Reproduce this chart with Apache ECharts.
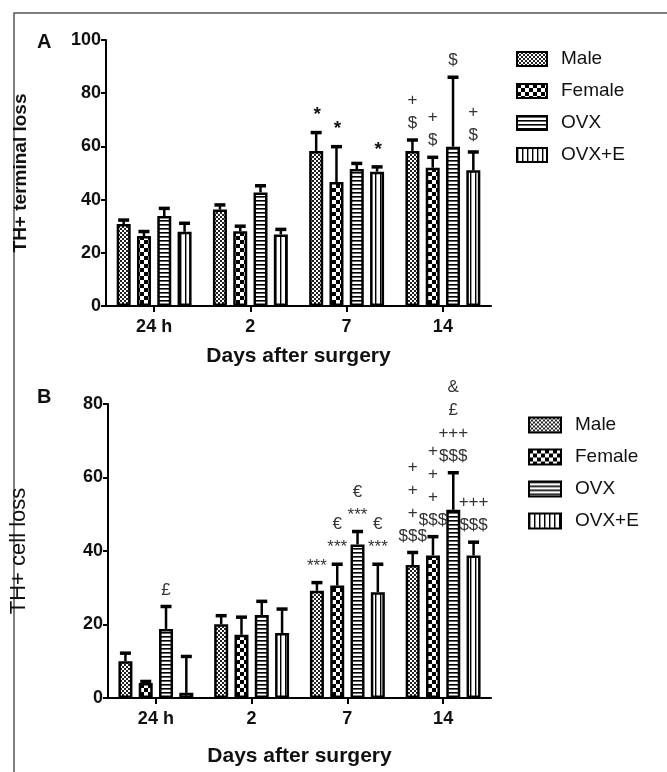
<!DOCTYPE html>
<html><head><meta charset="utf-8">
<script src="https://cdn.jsdelivr.net/npm/echarts@6/dist/echarts.min.js"></script>
<style>html,body{margin:0;padding:0;background:#fff}#c{width:667px;height:772px}</style>
</head><body><div id="c"></div>
<script>
// ---------- data ----------
const categories = ['24 h', '2', '7', '14'];
const seriesNames = ['Male', 'Female', 'OVX', 'OVX+E'];

// Panel A: TH+ terminal loss (mean, SEM)
const termMale      = [30.8, 36.3, 58.3, 58.3];
const termMaleErr   = [1.5, 1.7, 6.9, 4.1];
const termFemale    = [26.3, 28.1, 46.6, 52.0];
const termFemaleErr = [1.7, 1.9, 13.3, 3.9];
const termOVX       = [33.8, 42.7, 51.5, 59.9];
const termOVXErr    = [2.9, 2.5, 2.1, 26.1];
const termOVXE      = [27.9, 26.9, 50.5, 51.0];
const termOVXEErr   = [3.2, 1.9, 1.8, 6.9];

// Panel B: TH+ cell loss (mean, SEM)
const cellMale      = [10.0, 20.1, 29.2, 36.2];
const cellMaleErr   = [2.2, 2.3, 2.2, 3.4];
const cellFemale    = [4.1, 17.2, 30.6, 38.8];
const cellFemaleErr = [0.4, 4.8, 5.8, 5.1];
const cellOVX       = [18.8, 22.6, 41.8, 51.2];
const cellOVXErr    = [6.1, 3.7, 3.5, 10.1];
const cellOVXE      = [1.4, 17.7, 28.8, 38.8];
const cellOVXEErr   = [9.9, 6.5, 7.6, 3.6];

// significance marks
const termMarksMale   = ['', '', '*', '+\n$'];
const termMarksFemale = ['', '', '*', '+\n$'];
const termMarksOVX    = ['', '', '', '$'];
const termMarksOVXE   = ['', '', '*', '+\n$'];
const cellMarksMale   = ['', '', '***', '+\n+\n+\n$$$'];
const cellMarksFemale = ['', '', '€\n***', '+\n+\n+\n$$$'];
const cellMarksOVX    = ['£', '', '€\n***', '&\n£\n+++\n$$$'];
const cellMarksOVXE   = ['', '', '€\n***', '+++\n$$$'];

const yTicksA = {min: 0, max: 100, interval: 20};
const yTicksB = {min: 0, max: 80, interval: 20};

// ---------- styling helpers ----------
function pat(kind) {
  const c = document.createElement('canvas');
  const ctx = c.getContext('2d');
  if (kind === 0) { // fine dotted
    c.width = 4; c.height = 4;
    ctx.fillStyle = '#fff'; ctx.fillRect(0, 0, 4, 4);
    ctx.fillStyle = '#222'; ctx.fillRect(0, 0, 2, 2); ctx.fillRect(2, 2, 2, 2);
  } else if (kind === 1) { // checker
    c.width = 8; c.height = 8;
    ctx.fillStyle = '#fff'; ctx.fillRect(0, 0, 8, 8);
    ctx.fillStyle = '#000'; ctx.fillRect(0, 0, 4, 4); ctx.fillRect(4, 4, 4, 4);
  } else if (kind === 2) { // horizontal stripes
    c.width = 4; c.height = 4;
    ctx.fillStyle = '#fff'; ctx.fillRect(0, 0, 4, 4);
    ctx.fillStyle = '#000'; ctx.fillRect(0, 0, 4, 1.6);
  } else { // vertical stripes
    c.width = 5; c.height = 5;
    ctx.fillStyle = '#fff'; ctx.fillRect(0, 0, 5, 5);
    ctx.fillStyle = '#000'; ctx.fillRect(0, 0, 1.4, 5);
  }
  return {image: c, repeat: 'repeat'};
}
const patterns = [pat(0), pat(1), pat(2), pat(3)];

const BAR_W = 14, BAR_GAP = 0.45, STEP = BAR_W * (1 + BAR_GAP);
const SANS = "'Liberation Sans', Arial, sans-serif";

const panels = [
  {means: [termMale, termFemale, termOVX, termOVXE],
   errs: [termMaleErr, termFemaleErr, termOVXErr, termOVXEErr],
   marks: [termMarksMale, termMarksFemale, termMarksOVX, termMarksOVXE]},
  {means: [cellMale, cellFemale, cellOVX, cellOVXE],
   errs: [cellMaleErr, cellFemaleErr, cellOVXErr, cellOVXEErr],
   marks: [cellMarksMale, cellMarksFemale, cellMarksOVX, cellMarksOVXE]}
];

const series = [];
panels.forEach((p, g) => {
  seriesNames.forEach((name, s) => {
    series.push({
      type: 'bar', name, xAxisIndex: g, yAxisIndex: g,
      data: p.means[s], barWidth: BAR_W, barGap: (BAR_GAP * 100) + '%',
      itemStyle: {color: patterns[s], borderColor: '#000', borderWidth: 2.5},
      emphasis: {disabled: true}, silent: true
    });
  });
  const errData = [], markData = [];
  seriesNames.forEach((name, s) => {
    categories.forEach((c, i) => {
      errData.push([i, s, p.means[s][i], p.errs[s][i]]);
      if (p.marks[s][i]) markData.push([i, s, p.means[s][i] + p.errs[s][i], p.marks[s][i]]);
    });
  });
  series.push({
    type: 'custom', xAxisIndex: g, yAxisIndex: g, silent: true, z: 5,
    data: errData, encode: {x: 0, y: 2},
    renderItem: (params, api) => {
      const c = api.value(0), s = api.value(1), m = api.value(2), e = api.value(3);
      const p0 = api.coord([c, m]), p1 = api.coord([c, m + e]);
      const x = p0[0] + (s - 1.5) * STEP;
      return {type: 'group', children: [
        {type: 'line', shape: {x1: x, y1: p0[1], x2: x, y2: p1[1]}, style: {stroke: '#000', lineWidth: 2.5}},
        {type: 'line', shape: {x1: x - 5.5, y1: p1[1], x2: x + 5.5, y2: p1[1]}, style: {stroke: '#000', lineWidth: 3.5}}
      ]};
    }
  });
  series.push({
    type: 'custom', xAxisIndex: g, yAxisIndex: g, silent: true, z: 6,
    data: markData, encode: {x: 0, y: 2},
    renderItem: (params, api) => {
      const c = api.value(0), s = api.value(1), top = api.value(2);
      const txt = markData[params.dataIndex][3];
      const p = api.coord([c, top]);
      const star = (g === 0 && txt === '*');
      return {type: 'text', x: p[0] + (s - 1.5) * STEP + (star ? 1 : 0), y: p[1] - (star ? 6 : 5),
        style: {text: txt, textAlign: 'center', textVerticalAlign: 'bottom',
          font: star ? 'bold 19px ' + SANS : '17px ' + SANS, lineHeight: 23, fill: star ? '#111' : '#333'}};
    }
  });
});

const axisLabelY = {color: '#111', fontFamily: SANS, fontWeight: 'bold', fontSize: 18, margin: 5};
const axisLine = {show: true, lineStyle: {color: '#000', width: 2}};

function xAx(g, gap) {
  return {type: 'category', gridIndex: g, data: categories,
    axisLine, axisTick: {show: true, alignWithLabel: true, length: 6, lineStyle: {color: '#000', width: 2}},
    axisLabel: {color: '#111', fontFamily: SANS, fontWeight: 'bold', fontSize: 18, margin: 12},
    name: 'Days after surgery', nameLocation: 'middle', nameGap: gap,
    nameTextStyle: {color: '#111', fontFamily: SANS, fontWeight: 'bold', fontSize: 21}};
}
function yAx(g, t, name, bold, size, gap) {
  return {type: 'value', gridIndex: g, min: t.min, max: t.max, interval: t.interval,
    axisLine, axisTick: {show: true, length: 5, lineStyle: {color: '#000', width: 2}},
    splitLine: {show: false}, axisLabel: axisLabelY,
    name, nameLocation: 'middle', nameRotate: 90, nameGap: gap,
    nameTextStyle: {color: '#111', fontFamily: SANS, fontWeight: bold ? 'bold' : 'normal', fontSize: size}};
}
function legend(left, top, iw, ih) {
  return {data: seriesNames, orient: 'vertical', left, top, itemWidth: iw, itemHeight: ih, itemGap: 12,
    selectedMode: false, icon: 'rect',
    textStyle: {color: '#111', fontFamily: SANS, fontSize: 19, lineHeight: 20, padding: [0, 0, 0, 9]}};
}

const chart = echarts.init(document.getElementById('c'), null, {renderer: 'canvas'});
chart.setOption({
  animation: false,
  backgroundColor: '#fff',
  grid: [
    {left: 106, top: 40, width: 385, height: 266},
    {left: 106, top: 404, width: 385, height: 294}
  ],
  xAxis: [xAx(0, 40), xAx(1, 48)],
  yAxis: [yAx(0, yTicksA, 'TH+ terminal loss', true, 19, 76), yAx(1, yTicksB, 'TH+ cell loss', false, 22, 78)],
  legend: [legend(511, 44, 30, 14), legend(523, 410, 32, 15)],
  graphic: [
    {type: 'rect', shape: {x: 14, y: 13, width: 700, height: 800}, style: {fill: 'none', stroke: '#555', lineWidth: 1.5}, silent: true},
    {type: 'text', left: 37, top: 32, style: {text: 'A', font: 'bold 20px ' + SANS, fill: '#111'}},
    {type: 'text', left: 37, top: 387, style: {text: 'B', font: 'bold 20px ' + SANS, fill: '#111'}}
  ],
  series
});
</script></body></html>
